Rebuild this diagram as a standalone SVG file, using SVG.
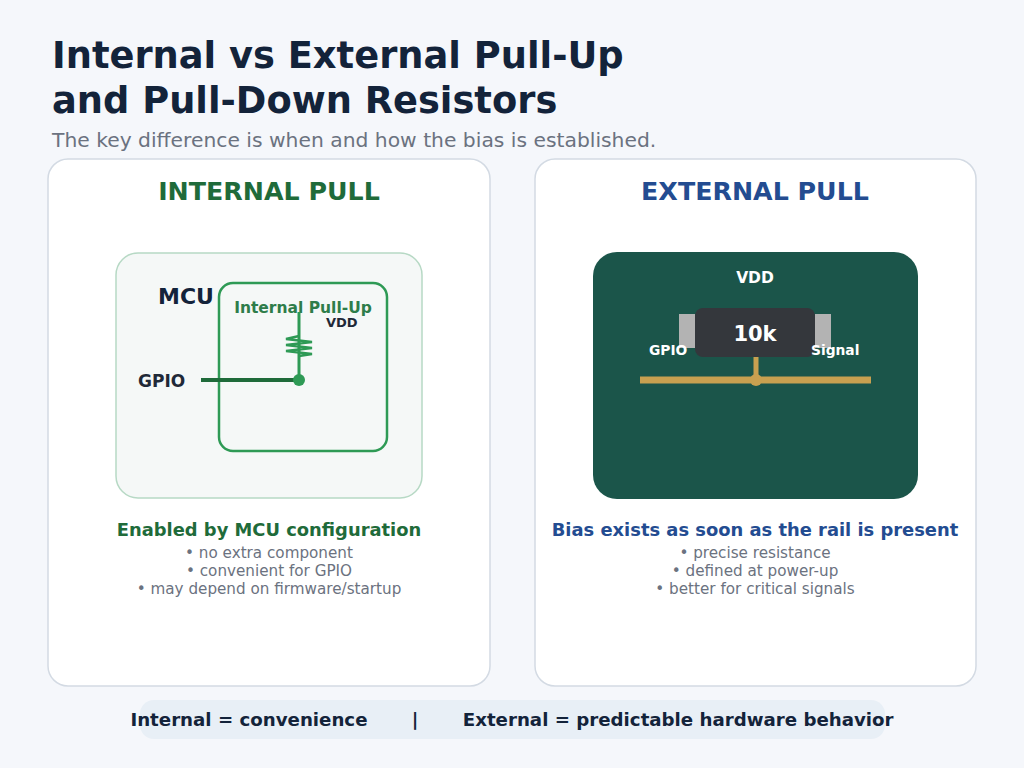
<svg xmlns="http://www.w3.org/2000/svg" width="1024" height="768" viewBox="0 0 1024 768">
<style>
text{font-family:"DejaVu Sans",sans-serif}
.b{font-weight:bold}
.card{fill:#fff;stroke:#d3dae3;stroke-width:1.5}
.sm{font-size:15.2px;fill:#6b7280;text-anchor:middle}
</style>
<rect width="1024" height="768" fill="#f5f7fb"/>
<text x="52" y="68" class="b" font-size="36.8" fill="#13233a">Internal vs External Pull-Up</text>
<text x="52" y="113" class="b" font-size="36.8" fill="#13233a">and Pull-Down Resistors</text>
<text x="52" y="147" font-size="20.3" fill="#6b7280">The key difference is when and how the bias is established.</text>
<g id="internal">
<rect x="48" y="159" width="442" height="527" rx="20" class="card"/>
<text x="269" y="200" class="b" font-size="25.3" fill="#1f6b3a" text-anchor="middle">INTERNAL PULL</text>
<rect x="116" y="253" width="306" height="245" rx="22" fill="#f5f8f7" stroke="#b7d9c5" stroke-width="1.5"/>
<rect x="219" y="283" width="168" height="168" rx="14" fill="none" stroke="#2e9a55" stroke-width="2.5"/>
<text x="158" y="304" class="b" font-size="22" fill="#13233a">MCU</text>
<text x="303" y="313" class="b" font-size="15.5" fill="#2e7d4a" text-anchor="middle">Internal Pull-Up</text>
<text x="326" y="327" class="b" font-size="13" fill="#1f2937">VDD</text>
<line x1="299" y1="312" x2="299" y2="380" stroke="#2e9a55" stroke-width="3"/>
<path d="M299 336 L286 339 L312 342 L286 345 L312 348 L286 351 L312 354 L299 356" fill="none" stroke="#2e9a55" stroke-width="2.5"/>
<line x1="201" y1="380" x2="299" y2="380" stroke="#1f6b3a" stroke-width="4"/>
<circle cx="299" cy="380" r="6" fill="#2e9a55"/>
<text x="138" y="387" class="b" font-size="17" fill="#1f2937">GPIO</text>
<text x="269" y="536" class="b" font-size="17.9" fill="#1f6b3a" text-anchor="middle">Enabled by MCU configuration</text>
<text x="269" y="558" class="sm">• no extra component</text>
<text x="269" y="576" class="sm">• convenient for GPIO</text>
<text x="269" y="594" class="sm">• may depend on firmware/startup</text>
</g>
<g id="external">
<rect x="535" y="159" width="441" height="527" rx="20" class="card"/>
<text x="755" y="200" class="b" font-size="25.3" fill="#234c91" text-anchor="middle">EXTERNAL PULL</text>
<rect x="593" y="252" width="325" height="247" rx="24" fill="#1b554a"/>
<text x="755" y="283" class="b" font-size="15.5" fill="#fff" text-anchor="middle">VDD</text>
<rect x="679" y="314" width="16" height="34" fill="#b3b3b3"/>
<rect x="815" y="314" width="16" height="34" fill="#b3b3b3"/>
<line x1="640" y1="380" x2="871" y2="380" stroke="#c8a050" stroke-width="7"/>
<line x1="756" y1="356" x2="756" y2="380" stroke="#c8a050" stroke-width="5"/>
<circle cx="756" cy="380" r="6" fill="#c8a050"/>
<rect x="695" y="308" width="120" height="49" rx="8" fill="#34373c"/>
<text x="755" y="341" class="b" font-size="21" fill="#fff" text-anchor="middle">10k</text>
<text x="649" y="355" class="b" font-size="13.8" fill="#fff">GPIO</text>
<text x="811" y="355" class="b" font-size="13.8" fill="#fff">Signal</text>
<text x="755" y="536" class="b" font-size="17.9" fill="#234c91" text-anchor="middle">Bias exists as soon as the rail is present</text>
<text x="755" y="558" class="sm">• precise resistance</text>
<text x="755" y="576" class="sm">• defined at power-up</text>
<text x="755" y="594" class="sm">• better for critical signals</text>
</g>
<g id="footer">
<rect x="140" y="700" width="745" height="39" rx="14" fill="#e8eff6"/>
<text x="512" y="726" class="b" font-size="18.2" fill="#13233a" text-anchor="middle" xml:space="preserve">Internal = convenience       |       External = predictable hardware behavior</text>
</g>
<g id="connectors"/>
</svg>
